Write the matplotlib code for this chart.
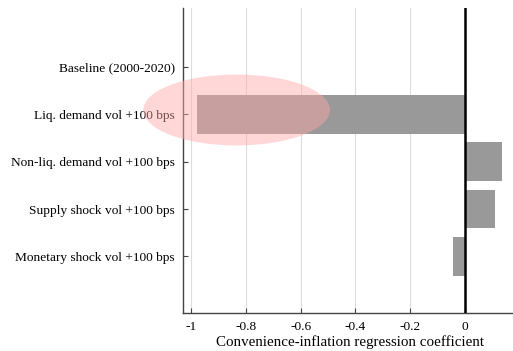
import matplotlib
matplotlib.use('Agg')
import matplotlib.pyplot as plt
from matplotlib.patches import Ellipse

plt.rcParams['font.family'] = ['Liberation Serif', 'DejaVu Serif']

# Scenario labels and regression coefficients
scenarios = [
    'Baseline (2000-2020)',
    'Liq. demand vol +100 bps',
    'Non-liq. demand vol +100 bps',
    'Supply shock vol +100 bps',
    'Monetary shock vol +100 bps',
]
coefs = [0.0, -0.978, 0.135, 0.109, -0.044]
xticks = [-1, -0.8, -0.6, -0.4, -0.2, 0]
xtick_labels = ['-1', '-0.8', '-0.6', '-0.4', '-0.2', '0']

fig = plt.figure(figsize=(5.13, 3.51), dpi=100)
ax = fig.add_axes([0.3567, 0.108, 0.651, 0.869])

pos = list(range(len(scenarios)))
ax.barh(pos, coefs, height=0.82, color='#999999', zorder=2)

# highlight the liquidity demand bar (spills over the tick label)
ax.add_patch(Ellipse((-0.834, 0.905), 0.682, 1.5, facecolor='#ffa8a8',
                     edgecolor='none', alpha=0.46, zorder=3, clip_on=False))

ax.axvline(0, color='black', linewidth=1.8, zorder=4)

ax.set_xlim(-1.03, 0.19)
ax.set_ylim(5.2, -1.25)
ax.set_xticks(xticks)
ax.set_xticklabels(xtick_labels)
ax.set_yticks(pos)
ax.set_yticklabels(scenarios)
ax.grid(axis='x', color='#dddddd', linewidth=0.8, zorder=0)
ax.set_axisbelow(True)

for s in ['top', 'right']:
    ax.spines[s].set_visible(False)
for s in ['left', 'bottom']:
    ax.spines[s].set_color('#444444')
    ax.spines[s].set_linewidth(1.0)

ax.tick_params(direction='in', length=3.5, color='#444444', labelsize=9.6)
ax.tick_params(axis='y', pad=6)
ax.tick_params(axis='x', pad=6)
ax.set_xlabel('Convenience-inflation regression coefficient', fontsize=10.8, labelpad=1)

fig.savefig('out.png', dpi=100)
